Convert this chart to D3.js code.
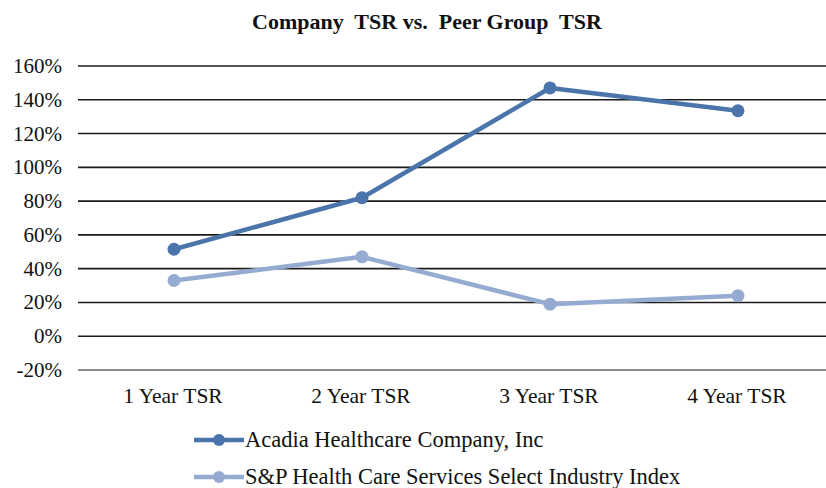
<!DOCTYPE html>
<html>
<head>
<meta charset="utf-8">
<script src="https://cdn.jsdelivr.net/npm/d3@7"></script>
<style>
  body { margin: 0; background: #fff; }
  text { font-family: "Liberation Serif", "DejaVu Serif", serif; fill: #111; white-space: pre; }
</style>
</head>
<body>
<div id="chart"></div>
<script>
const categories = ["1 Year TSR", "2 Year TSR", "3 Year TSR", "4 Year TSR"];
const acadiaValues = [51.5, 82, 147, 133.5];
const indexValues = [33, 47, 19, 24];
const seriesNames = ["Acadia Healthcare Company, Inc", "S&P Health Care Services Select Industry Index"];
const seriesColors = ["#4a74aa", "#96abd2"];
const yTicks = [-20, 0, 20, 40, 60, 80, 100, 120, 140, 160];

const width = 826, height = 488;
const plotLeft = 80, plotRight = 832, plotTop = 66, plotBottom = 370;

const svg = d3.select("#chart").append("svg")
  .attr("width", width)
  .attr("height", height);

const x = d3.scaleBand().domain(categories).range([plotLeft, plotRight]);
const y = d3.scaleLinear().domain([-20, 160]).range([plotBottom, plotTop]);

svg.append("text")
  .attr("x", 427).attr("y", 29)
  .attr("text-anchor", "middle")
  .style("font-weight", "bold")
  .style("font-size", "22px")
  .text("Company  TSR vs.  Peer Group  TSR");

// grid lines
svg.append("g").selectAll("line")
  .data(yTicks.filter(d => d !== -20))
  .join("line")
  .attr("x1", plotLeft - 2).attr("x2", width)
  .attr("y1", d => y(d)).attr("y2", d => y(d))
  .attr("stroke", "#1a1a1a")
  .attr("stroke-width", 1.6);

// bottom axis line
svg.append("line")
  .attr("x1", plotLeft - 2).attr("x2", width)
  .attr("y1", y(-20)).attr("y2", y(-20))
  .attr("stroke", "#8a8a8a")
  .attr("stroke-width", 2);

// y labels
svg.append("g").selectAll("text")
  .data(yTicks)
  .join("text")
  .attr("x", 62).attr("y", d => y(d) + 7)
  .attr("text-anchor", "end")
  .style("font-size", "21px")
  .text(d => d + "%");

// x labels
svg.append("g").selectAll("text")
  .data(categories)
  .join("text")
  .attr("x", d => x(d) + x.bandwidth() / 2 - 1)
  .attr("y", 403)
  .attr("text-anchor", "middle")
  .style("font-size", "21.5px")
  .text(d => d);

const line = d3.line()
  .x((d, i) => x(categories[i]) + x.bandwidth() / 2)
  .y(d => y(d));

[acadiaValues, indexValues].forEach((vals, k) => {
  svg.append("path")
    .datum(vals)
    .attr("d", line)
    .attr("fill", "none")
    .attr("stroke", seriesColors[k])
    .attr("stroke-width", 4.5)
    .attr("stroke-linejoin", "round");
  svg.append("g").selectAll("circle")
    .data(vals)
    .join("circle")
    .attr("cx", (d, i) => x(categories[i]) + x.bandwidth() / 2)
    .attr("cy", d => y(d))
    .attr("r", 6.5)
    .attr("fill", seriesColors[k]);
});

// legend
const legend = svg.append("g").selectAll("g")
  .data(seriesNames)
  .join("g")
  .attr("transform", (d, i) => "translate(0," + (440 + i * 37) + ")");
legend.append("line")
  .attr("x1", 194).attr("x2", 244)
  .attr("stroke", (d, i) => seriesColors[i])
  .attr("stroke-width", 4.5);
legend.append("circle")
  .attr("cx", 219).attr("r", 6)
  .attr("fill", (d, i) => seriesColors[i]);
legend.append("text")
  .attr("x", 245).attr("y", 7)
  .style("font-size", "22.5px")
  .text(d => d);
</script>
</body>
</html>
